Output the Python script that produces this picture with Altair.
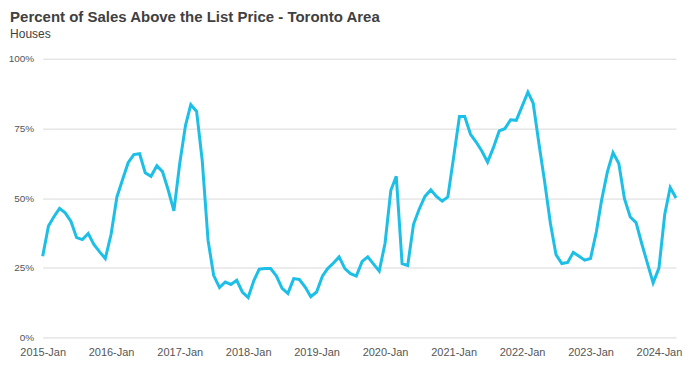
import altair as alt
import pandas as pd

years = [2015, 2016, 2017, 2018, 2019, 2020, 2021, 2022, 2023, 2024]
values = [
    # 2015
    29.1, 40.0, 43.2, 46.3, 44.7, 41.6, 35.8, 35.1, 37.3, 33.4, 30.7, 28.3,
    # 2016
    37.0, 50.4, 56.4, 62.7, 65.6, 65.9, 59.1, 57.8, 61.6, 59.5, 52.8, 45.4,
    # 2017
    62.4, 76.1, 83.5, 81.1, 63.5, 34.9, 22.3, 17.9, 19.9, 19.0, 20.5, 16.3,
    # 2018
    14.3, 20.5, 24.5, 24.7, 24.7, 22.0, 17.6, 15.8, 21.1, 20.8, 18.1, 14.6,
    # 2019
    16.3, 22.0, 24.7, 26.7, 28.9, 24.7, 22.9, 22.0, 27.3, 28.9, 26.3, 23.8,
    # 2020
    33.7, 52.8, 57.8, 26.5, 25.8, 40.6, 46.0, 50.6, 53.0, 50.6, 48.9, 50.4,
    # 2021
    64.7, 79.3, 79.3, 72.9, 70.1, 66.8, 62.9, 68.1, 74.1, 74.9, 78.1, 77.9,
    # 2022
    82.9, 88.0, 84.1, 69.5, 56.0, 41.0, 29.7, 26.5, 26.9, 30.5, 29.1, 27.7,
    # 2023
    28.3, 37.8, 49.2, 59.4, 66.3, 62.4, 49.8, 43.2, 41.2, 33.7, 26.5, 19.6,
    # 2024
    24.9, 44.2, 53.8, 50.0,
]
y_ticks = [0, 25, 50, 75, 100]

dates = []
for i in range(len(values)):
    y = 2015 + i // 12
    m = i % 12 + 1
    dates.append(f"{y}-{m:02d}-01")

df = pd.DataFrame({"date": dates, "pct": values})

x_ticks = [alt.DateTime(year=y, month=1, date=1, utc=True) for y in years]

chart = alt.Chart(df).mark_line(color="#1DBFE6", strokeWidth=3).encode(
    x=alt.X("date:T",
            scale=alt.Scale(type="utc",
                            domain=[alt.DateTime(year=2015, month=1, date=1, utc=True),
                                    alt.DateTime(year=2024, month=4, date=1, utc=True)]),
            axis=alt.Axis(values=x_ticks, format="%Y-%b", title=None, grid=False,
                          ticks=False, domain=False, labelPadding=9,
                          labelOverlap=False, labelBound=False, labelFlush=False,
                          labelFont="Liberation Sans", labelFontSize=11,
                          labelColor="#555555")),
    y=alt.Y("pct:Q",
            scale=alt.Scale(domain=[0, 100]),
            axis=alt.Axis(values=y_ticks, labelExpr="datum.value + '%'", title=None,
                          ticks=False, domain=False, labelPadding=9,
                          gridColor="#d9d9d9", gridWidth=1,
                          labelFont="Liberation Sans", labelFontSize=10,
                          labelColor="#555555")),
).properties(
    width=634,
    height=279,
    title=alt.TitleParams(
        text="Percent of Sales Above the List Price - Toronto Area",
        subtitle="Houses",
        anchor="start",
        dx=2,
        font="Liberation Sans",
        fontSize=15,
        fontWeight="bold",
        color="#404040",
        subtitleFont="Liberation Sans",
        subtitleFontSize=12,
        subtitleColor="#404040",
        subtitlePadding=4,
        offset=14,
    ),
    autosize=alt.AutoSizeParams(type="none"),
    padding={"left": 34.7, "top": 50.6, "right": 10, "bottom": 20},
).configure_view(stroke=None)

chart.save("out.html", embed_options={"renderer": "svg", "actions": False})
